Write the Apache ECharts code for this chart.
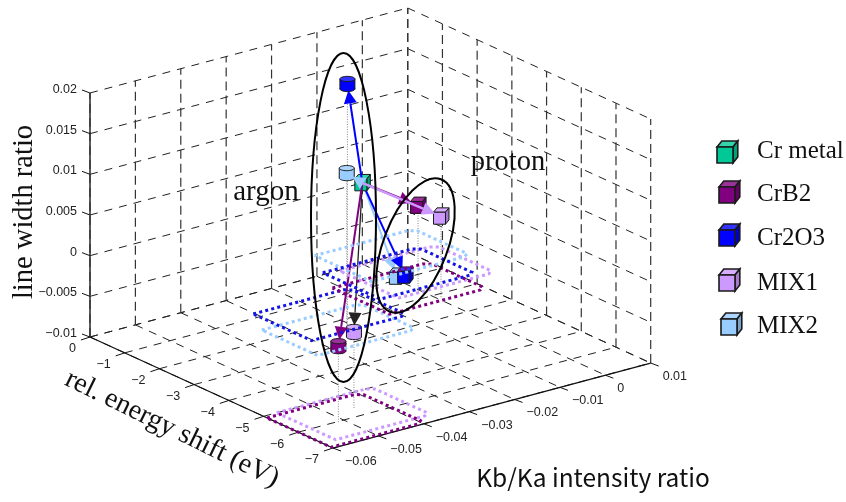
<!DOCTYPE html>
<html><head><meta charset="utf-8">
<style>html,body{margin:0;padding:0;background:#fff}#c{width:846px;height:502px}</style>
<script src="https://cdn.jsdelivr.net/npm/echarts@6/dist/echarts.min.js"></script>
</head><body><div id="c"></div>
<script>
// ---- tick labels ----
const ratioTicks  = [-0.06,-0.05,-0.04,-0.03,-0.02,-0.01,0,0.01];
const energyTicks = [0,-1,-2,-3,-4,-5,-6,-7];
const widthTicks  = [-0.01,-0.005,0,0.005,0.01,0.015,0.02];
// ---- categories ----
const categories = ["Cr metal","CrB2","Cr2O3","MIX1","MIX2"];
// ---- points: argon (Cr metal is the origin, shared) ----
const argonRatio  = [0,-0.0517,-0.0221,-0.0449,-0.0237];
const argonEnergy = [0,-6.07,-2.46,-5.63,-2.65];
const argonWidth  = [0,-0.00053,0.02025,-0.00066,0.0099];
// ---- points: proton ----
const protonRatio  = [0,-0.0135,-0.0113,-0.0115,-0.0125];
const protonEnergy = [0,-3.37,-2.71,-3.77,-2.63];
const protonWidth  = [0,0.0058,-0.0044,0.00496,-0.0045];
// ---- uncertainty footprints: material index, ratio lo/hi, energy near/far, plane ----
const boxMaterial = [3,1,4,2,3,1,4,2];
const boxRatioLo  = [-0.0571,-0.06,-0.034,-0.0303,-0.0176,-0.0238,-0.0164,-0.0205];
const boxRatioHi  = [-0.0362,-0.0395,-0.0122,-0.0092,0.0035,-0.0026,0.0054,0.0004];
const boxEnergyA  = [-5.0,-5.1,-1.55,-0.82,-1.65,-2.25,-0.77,-1.54];
const boxEnergyB  = [-6.7,-6.95,-3.16,-2.5,-3.35,-3.9,-2.41,-3.2];
const boxPlane    = [-0.01,-0.01,-0.01,-0.01,-0.005,-0.005,-0.005,-0.005];
// ---- drop line ends (plane reached) ----
const argonDrop  = [-0.01,-0.01,-0.01,-0.01,-0.01];
const protonDrop = [-0.01,-0.005,-0.005,-0.005,-0.005];

const colors = ["#00c896","#800080","#0000ff","#cc99ff","#99ccff"];
const tops   = ["#33d4ab","#993399","#3333ff","#d6adff","#add6ff"];
const sides  = ["#00a078","#660066","#0000cc","#a37acc","#7aa3cc"];
const arrowColorsArgon = ["","#800080","#0000ff","#222222","#99ccff"];

// oblique projection of the three data axes onto the hidden page-sized axes
function proj(r,e,z){
  const a=(r+0.06)/0.01, b=-e, c=(z+0.01)/0.005;
  return [90+a*45.39+b*34.71, 337-a*12.14+b*15.86-c*40.67];
}
function fmt(v){return String(v).replace('-','\u2212');}

const base={type:'custom',coordinateSystem:'cartesian2d',silent:true,animation:false,clip:false};
function segs(rows,style){
  return Object.assign({},base,{data:rows,renderItem:(p,api)=>{
    const A=api.coord(proj(api.value(0),api.value(1),api.value(2)));
    const B=api.coord(proj(api.value(3),api.value(4),api.value(5)));
    return {type:'line',shape:{x1:A[0],y1:A[1],x2:B[0],y2:B[1]},style:Object.assign({fill:null},style)};
  }});
}
const rMin=-0.06,rMax=0.01,eMin=-7,eMax=0,zMin=-0.01,zMax=0.02;
const gridRows=[],vertRows=[];
ratioTicks.forEach(r=>{
  gridRows.push([r,eMax,zMin,r,eMin,zMin]);
  vertRows.push([r,eMax,zMin,r,eMax,zMax]);
});
energyTicks.forEach(e=>{
  gridRows.push([rMin,e,zMin,rMax,e,zMin]);
  vertRows.push([rMax,e,zMin,rMax,e,zMax]);
});
widthTicks.forEach(z=>{
  gridRows.push([rMin,eMax,z,rMax,eMax,z]);
  gridRows.push([rMax,eMax,z,rMax,eMin,z]);
});
const axisRows=[[rMin,eMax,zMin,rMin,eMin,zMin],[rMin,eMin,zMin,rMax,eMin,zMin]];

function tickSeries(rows,labels,dx,dy,tx,ty,align){
  return Object.assign({},base,{data:rows,renderItem:(p,api)=>{
    const A=api.coord(proj(api.value(0),api.value(1),api.value(2)));
    return {type:'group',children:[
      {type:'line',shape:{x1:A[0],y1:A[1],x2:A[0]+dx,y2:A[1]+dy},style:{stroke:'#111',lineWidth:1,fill:null}},
      {type:'text',style:{x:A[0]+tx,y:A[1]+ty,text:labels[p.dataIndex],fill:'#222',
        font:'12.5px "Liberation Sans"',align:align,verticalAlign:'middle'}}
    ]};
  }});
}

function cube(x,y,i,w,d,lw){
  const fx=x,fy=y; // front-face top-left
  const stroke='#1a1a1a';
  return [
    {type:'polygon',shape:{points:[[fx,fy],[fx+d,fy-d*1.25],[fx+w+d,fy-d*1.25],[fx+w,fy]]},style:{fill:tops[i],stroke,lineWidth:lw}},
    {type:'polygon',shape:{points:[[fx+w,fy],[fx+w+d,fy-d*1.25],[fx+w+d,fy+w-d*1.25],[fx+w,fy+w]]},style:{fill:sides[i],stroke,lineWidth:lw}},
    {type:'rect',shape:{x:fx,y:fy,width:w,height:w},style:{fill:colors[i],stroke,lineWidth:lw}}
  ];
}
function cylinder(cx,cy,i){
  const rx=7.5,ry=2.6,h=10,stroke='#1a1a1a';
  return [
    {type:'ellipse',shape:{cx:cx,cy:cy+h/2,rx,ry},style:{fill:colors[i],stroke,lineWidth:1}},
    {type:'rect',shape:{x:cx-rx,y:cy-h/2,width:2*rx,height:h},style:{fill:colors[i],stroke:null}},
    {type:'line',shape:{x1:cx-rx,y1:cy-h/2,x2:cx-rx,y2:cy+h/2},style:{stroke,lineWidth:1,fill:null}},
    {type:'line',shape:{x1:cx+rx,y1:cy-h/2,x2:cx+rx,y2:cy+h/2},style:{stroke,lineWidth:1,fill:null}},
    {type:'ellipse',shape:{cx:cx,cy:cy-h/2,rx,ry},style:{fill:tops[i],stroke,lineWidth:1}}
  ];
}
function markerSeries(R,E,Z,shape,idx){
  return Object.assign({},base,{data:idx.map(i=>[R[i],E[i],Z[i],i]),renderItem:(p,api)=>{
    const A=api.coord(proj(api.value(0),api.value(1),api.value(2))),i=api.value(3);
    const ch= shape==='cube'?cube(A[0]-7.5,A[1]-4,i,12,3.5,1):cylinder(A[0],A[1],i);
    return {type:'group',children:ch};
  }});
}
function arrowSeries(R,E,Z,cols,idx,lw){
  return Object.assign({},base,{data:idx.map(i=>[R[i],E[i],Z[i],i]),renderItem:(p,api)=>{
    const O=api.coord(proj(0,0,0)),A=api.coord(proj(api.value(0),api.value(1),api.value(2))),i=api.value(3);
    const dx=A[0]-O[0],dy=A[1]-O[1],L=Math.hypot(dx,dy),ux=dx/L,uy=dy/L;
    const cut=6.5, hl=13, hw=6.5;
    const T=[A[0]-ux*cut,A[1]-uy*cut],Bx=T[0]-ux*hl,By=T[1]-uy*hl;
    return {type:'group',children:[
      {type:'line',shape:{x1:O[0],y1:O[1],x2:Bx,y2:By},style:{stroke:cols[i],lineWidth:lw,fill:null}},
      {type:'polygon',shape:{points:[T,[Bx-uy*hw,By+ux*hw],[Bx+uy*hw,By-ux*hw]]},style:{fill:cols[i],stroke:null}}
    ]};
  }});
}
const boxSeries=Object.assign({},base,{data:boxMaterial.map((m,i)=>[boxRatioLo[i],boxRatioHi[i],boxEnergyA[i],boxEnergyB[i],boxPlane[i],m]),
  renderItem:(p,api)=>{
    const lo=api.value(0),hi=api.value(1),a=api.value(2),b=api.value(3),z=api.value(4),m=api.value(5);
    const cr=(hi-lo)*0.06,ce=(b-a)*0.06;
    const pts=[[lo,a],[hi-cr,a],[hi,a+ce],[hi,b-ce],[hi-cr,b],[lo,b],[lo,a]].map(q=>api.coord(proj(q[0],q[1],z)));
    return {type:'polyline',shape:{points:pts},style:{stroke:colors[m]==='#0000ff'?'#1414e6':colors[m],lineWidth:3,lineDash:[3,3.2],fill:null}};
  }});

const allIdx=[1,2,3,4];
const dropRows=[];
allIdx.forEach(i=>{dropRows.push([argonRatio[i],argonEnergy[i],argonWidth[i],argonRatio[i],argonEnergy[i],argonDrop[i]]);});
[1,3].forEach(i=>{dropRows.push([protonRatio[i],protonEnergy[i],protonWidth[i],protonRatio[i],protonEnergy[i],protonDrop[i]]);});

const series=[
  segs(gridRows,{stroke:'#222',lineWidth:1,lineDash:[8,7]}),
  segs(vertRows,{stroke:'#333',lineWidth:1.2,lineDash:[9,5]}),
  segs(dropRows,{stroke:'#888',lineWidth:1,lineDash:[1,1.5]}),
  segs(axisRows,{stroke:'#111',lineWidth:1.3}),
  segs([[rMin,eMax,zMin,rMin,eMax,zMax]],{stroke:'#333',lineWidth:1.6}),
  tickSeries(widthTicks.map(z=>[rMin,eMax,z]),widthTicks.map(fmt),-8,-3,-13,-3.5,'right'),
  tickSeries(energyTicks.map(e=>[rMin,e,zMin]),energyTicks.map(fmt),-9,3,-14,12,'right'),
  tickSeries(ratioTicks.map(r=>[r,eMin,zMin]),ratioTicks.map(fmt),8,3,12,13.5,'left'),
  arrowSeries(protonRatio,protonEnergy,protonWidth,colors,[4],2),
  arrowSeries(protonRatio,protonEnergy,protonWidth,colors,[2],2),
  arrowSeries(protonRatio,protonEnergy,protonWidth,colors,[1],2.5),
  markerSeries(protonRatio,protonEnergy,protonWidth,'cube',[4,2,1,3]),
  markerSeries(argonRatio,argonEnergy,argonWidth,'cyl',[1,2,3,4]),
  markerSeries(argonRatio,argonEnergy,argonWidth,'cube',[0]),
  arrowSeries(argonRatio,argonEnergy,argonWidth,arrowColorsArgon,[3],1.3),
  arrowSeries(argonRatio,argonEnergy,argonWidth,arrowColorsArgon,[1],2),
  arrowSeries(argonRatio,argonEnergy,argonWidth,arrowColorsArgon,[2],2),
  arrowSeries(argonRatio,argonEnergy,argonWidth,arrowColorsArgon,[4],2.5),
  arrowSeries(protonRatio,protonEnergy,protonWidth,colors,[3],2.5),
  boxSeries
];

const serif='"Liberation Serif"';
function label(text,x,y,size,font,rot,align){
  return {type:'text',z:100,x:x,y:y,rotation:rot||0,style:{text:text,x:0,y:0,fill:'#111',font:size+'px '+font,align:align||'center',verticalAlign:'middle'}};
}
const legendY=[147,187,230,275,319];
const legendX=[717,719,719,719,721];
const legendTextY=[151,194,238,283,326];
const graphic=[
  {type:'ellipse',z:90,x:343.5,y:217.5,shape:{cx:0,cy:0,rx:32.5,ry:164.5},style:{fill:null,stroke:'#000',lineWidth:2}},
  {type:'ellipse',z:90,x:415.5,y:245.5,rotation:-21*Math.PI/180,shape:{cx:0,cy:0,rx:32,ry:71},style:{fill:null,stroke:'#000',lineWidth:2}},
  label('argon',266,192,29,serif),
  label('proton',508,163,28.5,serif),
  label('line width ratio',25,212,28.5,serif,Math.PI/2),
  label('rel. energy shift (eV)',172,429,28,serif,-26*Math.PI/180),
  label('Kb/Ka intensity ratio',593,478,24.5,'"Noto Sans CJK JP"')
];
categories.forEach((c,i)=>{
  graphic.push({type:'group',z:95,children:cube(legendX[i],legendY[i],i,16,4.8,1.6)});
  graphic.push(label(c,757,legendTextY[i],25,serif,0,'left'));
});

const chart=echarts.init(document.getElementById('c'),null,{renderer:'canvas'});
chart.setOption({
  animation:false,backgroundColor:'#fff',
  grid:{left:0,right:0,top:0,bottom:0},
  xAxis:{type:'value',min:0,max:846,show:false},
  yAxis:{type:'value',min:0,max:502,inverse:true,show:false},
  series:series,
  graphic:graphic
});
</script></body></html>
